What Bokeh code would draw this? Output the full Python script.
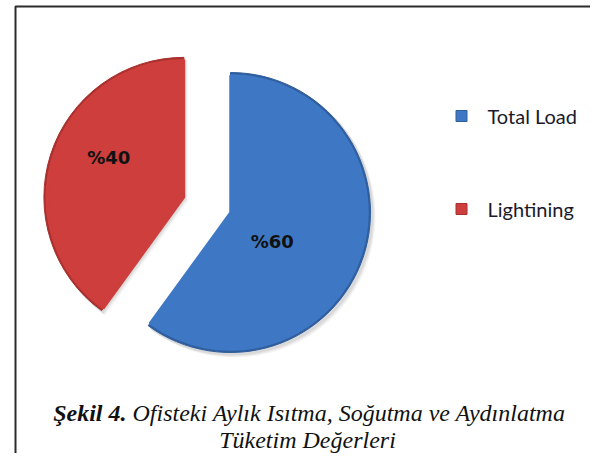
import math
from bokeh.plotting import figure
from bokeh.models import Range1d, ColumnDataSource
from bokeh.core.properties import value
from bokeh.embed import file_html
from bokeh.resources import INLINE

# ---- data ----
categories = ["Total Load", "Lightining"]
values = [60, 40]
colors = ["#3E78C4", "#CD3E3C"]
edge_colors = ["#2F5E9E", "#A8302E"]
caption_bold = "Şekil 4."
caption_line1 = "Ofisteki Aylık Isıtma, Soğutma ve Aydınlatma"
caption_line2 = "Tüketim Değerleri"

# ---- layout (reference pixel coordinates) ----
W, H = 590, 453


def Y(py):
    return H - py


cx, cy = 230, Y(212)
R = 140
explode = [0, 49]
label_polar = [(51, -35), (85, 152)]

p = figure(width=W, height=H, output_backend="svg", toolbar_location=None,
           x_range=Range1d(0, W), y_range=Range1d(0, H),
           min_border=0)
p.axis.visible = False
p.xgrid.visible = False
p.ygrid.visible = False
p.outline_line_color = None
p.background_fill_color = "white"
p.border_fill_color = "white"

# frame
p.line(x=[15, 15, W + 5], y=[-5, Y(6), Y(6)], line_color="#2b2b2b", line_width=2)

total = float(sum(values))
starts, ends, xs, ys, lxs, lys = [], [], [], [], [], []
acc = 0.0
for i, v in enumerate(values):
    a_end = math.radians(90 - acc / total * 360)
    acc += v
    a_start = math.radians(90 - acc / total * 360)
    mid = (a_start + a_end) / 2
    x0 = cx + explode[i] * math.cos(mid)
    y0 = cy + explode[i] * math.sin(mid)
    starts.append(a_start)
    ends.append(a_end)
    xs.append(x0)
    ys.append(y0)
    lr, la = label_polar[i]
    lxs.append(x0 + lr * math.cos(math.radians(la)))
    lys.append(y0 + lr * math.sin(math.radians(la)))

src = ColumnDataSource(dict(x=xs, y=ys, start=starts, end=ends, color=colors,
                            edge=edge_colors, cat=categories,
                            label=["%" + str(v) for v in values],
                            lx=lxs, ly=lys))

# soft shadow
for k, a in [(4, 0.06), (3, 0.08), (2, 0.10)]:
    p.wedge(x=[x + k for x in xs], y=[y - k for y in ys], radius=R + 1,
            start_angle=starts, end_angle=ends, fill_color="#555555",
            fill_alpha=a, line_color=None)

p.wedge(x="x", y="y", radius=R, start_angle="start", end_angle="end",
        fill_color="edge", line_color="edge", line_width=1, source=src)
p.wedge(x="x", y="y", radius=R - 3, start_angle="start", end_angle="end",
        fill_color="color", line_color="color", line_width=2.5, source=src)

p.text(x="lx", y="ly", text="label", source=src, text_align="center",
       text_baseline="middle", text_font=value("DejaVu Sans"),
       text_font_style="bold", text_font_size="18px", text_color="#111111")

# legend
leg_x, leg_tx = 461, 487
leg_y0, leg_dy = Y(115.5), 93
leg_ys = [leg_y0 - i * leg_dy for i in range(len(categories))]
p.scatter(x=[leg_x] * len(categories), y=leg_ys, marker="square", size=11,
          fill_color=colors, line_color=edge_colors, line_width=1)
p.text(x=[leg_tx] * len(categories), y=leg_ys, text=categories,
       text_baseline="middle", text_align="left", text_font=value("Lato"),
       text_font_size="20px", text_color="#1a1a2a")

# caption
split_x = 126
cap_y1, cap_y2 = Y(412), Y(439)
p.text(x=[split_x], y=[cap_y1], text=[caption_bold], text_align="right",
       text_baseline="middle", text_font=value("Liberation Serif"),
       text_font_style="bold italic", text_font_size="24px", text_color="#111111")
p.text(x=[split_x + 6], y=[cap_y1], text=[caption_line1], text_align="left",
       text_baseline="middle", text_font=value("Liberation Serif"),
       text_font_style="italic", text_font_size="24px", text_color="#111111")
p.text(x=[307], y=[cap_y2], text=[caption_line2], text_align="center",
       text_baseline="middle", text_font=value("Liberation Serif"),
       text_font_style="italic", text_font_size="24px", text_color="#111111")

open("out.html", "w").write(file_html(p, INLINE))
